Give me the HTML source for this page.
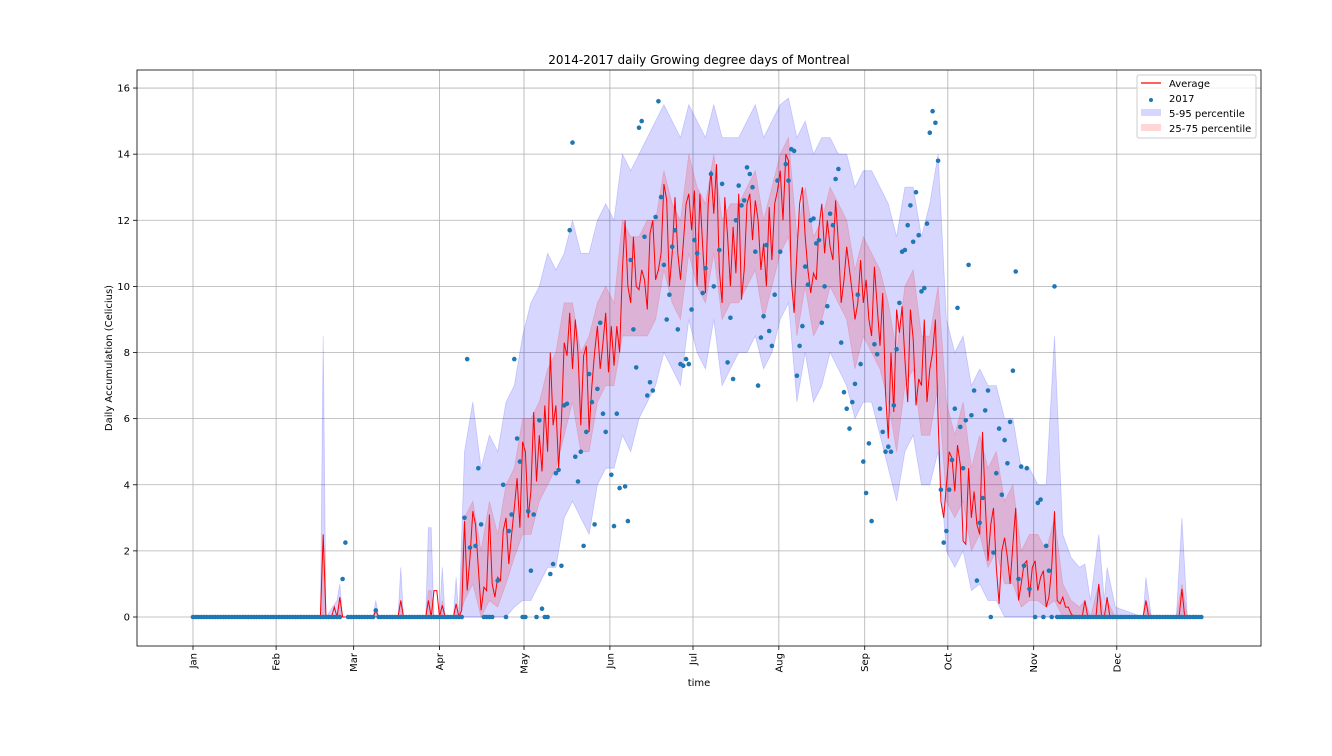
<!DOCTYPE html>
<html><head><meta charset="utf-8"><style>
body{margin:0;background:#fff;}
svg{display:block;font-family:"DejaVu Sans","Liberation Sans",sans-serif;}
</style></head><body>
<svg id="chart" width="1332" height="756" viewBox="0 0 1332 756" xmlns="http://www.w3.org/2000/svg">
<rect width="1332" height="756" fill="#fff"/>
<text x="699" y="64" text-anchor="middle" font-size="12">2014-2017 daily Growing degree days of Montreal</text>
<text transform="translate(112,358) rotate(-90)" text-anchor="middle" font-size="10">Daily Accumulation (Celicius)</text>
<text x="699" y="686" text-anchor="middle" font-size="10">time</text>
<g id="grid"></g><g id="bands"></g><g id="avgline"></g><g id="points"></g><g id="axes"></g>
<g>
<rect x="1137" y="75" width="119" height="63" rx="2" fill="#fff" fill-opacity="0.8" stroke="#ccc"/>
<line x1="1141" y1="83" x2="1161" y2="83" stroke="red" stroke-width="1.3"/>
<text x="1169" y="87" font-size="10">Average</text>
<circle cx="1151" cy="100" r="2" fill="#1f77b4"/>
<text x="1169" y="102" font-size="10">2017</text>
<rect x="1141" y="109" width="20" height="7" fill="#d6d6ff"/>
<text x="1169" y="117" font-size="10">5-95 percentile</text>
<rect x="1141" y="124" width="20" height="7" fill="#ffd6d6"/>
<text x="1169" y="132" font-size="10">25-75 percentile</text>
</g>
</svg>
<script>
const monthLabels=["Jan","Feb","Mar","Apr","May","Jun","Jul","Aug","Sep","Oct","Nov","Dec"];
const monthDays=[0,30,58,89,119.5,150.5,180.5,211.5,242.5,272.5,303.5,333.5];
const yTicks=[0,2,4,6,8,10,12,14,16];
const avg=[
0,0,0,0,0,0,0,0,0,0, 0,0,0,0,0,0,0,0,0,0, 0,0,0,0,0,0,0,0,0,0, 0,0,0,0,0,0,0,0,0,0,
0,0,0,0,0,0,0,2.5,0,0, 0,0.3,0,0.6,0,0,0,0,0,0, 0,0,0,0,0,0,0.2,0,0,0, 0,0,0,0,0,0.5,0,0,0,0,
0,0,0,0,0,0.5,0,0.8,0.8,0, 0.35,0,0,0,0,0.4,0,0.2,2.9,0.8,
1.8,3.2,2.8,1.5,0.2,0.9,0.8,3.1,1.0,0.6, 1.2,1.1,2.6,3.0,1.6,2.5,3.3,4.2,2.7,5.3,
5.0,3.0,3.8,6.2,4.1,5.5,4.4,6.4,5.0,8.0, 5.8,6.4,4.5,5.9,8.3,7.9,9.2,7.5,9.0,8.0,
5.8,7.9,8.2,5.6,7.0,8.0,8.8,7.5,8.3,9.2, 7.4,8.8,7.6,8.8,8.0,10.5,12.0,10.0,9.5,11.5,
10.0,9.9,10.5,10.2,9.3,11.6,12.0,10.2,10.5,11.0, 13.1,12.6,10.0,11.0,12.7,11.0,10.2,11.3,12.5,12.8,
11.7,12.9,10.0,12.8,11.2,9.8,12.5,13.5,12.2,13.7, 10.5,9.5,12.7,11.5,10.0,11.8,10.4,12.8,9.6,10.5,
12.5,12.8,11.4,12.6,12.0,10.5,11.3,10.0,12.4,10.8, 12.5,12.9,13.5,12.0,14.0,13.8,10.2,9.2,11.0,12.5,
13.0,11.5,10.5,9.8,10.4,10.2,11.8,12.5,11.0,12.0, 11.2,10.8,12.6,11.3,9.5,10.2,11.2,10.5,9.8,9.0,
9.5,10.8,9.5,10.2,9.0,8.5,10.6,9.4,8.2,9.8, 6.8,5.4,8.0,6.2,9.3,8.6,9.4,7.8,6.5,9.3,
8.4,6.4,7.2,7.0,9.0,6.5,7.5,8.0,9.0,6.0, 3.5,3.0,4.0,5.0,4.8,3.8,5.2,4.6,2.3,2.2,
4.5,3.0,3.8,2.8,2.5,5.6,3.5,1.7,2.8,3.3, 1.5,0.4,2.0,2.4,1.8,1.0,2.2,3.3,0.5,1.0,
1.6,1.7,0.6,1.5,1.7,0.8,1.2,1.4,0.3,0.6, 1.5,3.2,0.5,0.4,0.6,0.3,0.3,0.1,0,0,
0,0,0.5,0,0,0,0,1.0,0,0, 0.6,0,0,0,0,0,0,0,0,0, 0,0,0,0,0.5,0,0,0,0,0,
0,0,0,0,0,0,0,0.85,0,0, 0,0,0,0,0];
const obs2017=[
0,0,0,0,0,0,0,0,0,0, 0,0,0,0,0,0,0,0,0,0, 0,0,0,0,0,0,0,0,0,0, 0,0,0,0,0,0,0,0,0,0,
0,0,0,0,0,0,0,0,0,0, 0,0,0,0,1.15,2.25,0,0,0,0, 0,0,0,0,0,0,0.2,0,0,0, 0,0,0,0,0,0,0,0,0,0,
0,0,0,0,0,0,0,0,0,0, 0,0,0,0,0,0,0,0,3.0,7.8,
2.1,null,2.15,4.5,2.8,0,0,0,0,null, 1.1,null,4.0,0,2.6,3.1,7.8,5.4,4.7,0,
0,3.2,1.4,3.1,0,5.95,0.25,0,0,1.3, 1.6,4.35,4.45,1.55,6.4,6.45,11.7,14.35,4.85,4.1,
5.0,2.15,5.6,7.35,6.5,2.8,6.9,8.9,6.15,5.6, null,4.3,2.75,6.15,3.9,null,3.95,2.9,10.8,8.7,
7.55,14.8,15.0,11.5,6.7,7.1,6.85,12.1,15.6,12.7, 10.65,9.0,9.75,11.2,11.7,8.7,7.65,7.6,7.8,7.65,
9.3,11.4,11.0,null,9.8,10.55,null,13.4,10.0,null, 11.1,13.1,null,7.7,9.05,7.2,12.0,13.05,12.45,12.6,
13.6,13.4,13.0,11.05,7.0,8.45,9.1,11.25,8.65,8.2, 9.75,13.2,11.05,null,13.7,13.2,14.15,14.1,7.3,8.2,
8.8,10.6,10.05,12.0,12.05,11.3,11.4,8.9,10.0,9.4, 12.2,11.85,13.25,13.55,8.3,6.8,6.3,5.7,6.5,7.05,
9.75,7.65,4.7,3.75,5.25,2.9,8.25,7.95,6.3,5.6, 5.0,5.15,5.0,6.4,8.1,9.5,11.05,11.1,11.85,12.45,
11.35,12.85,11.55,9.85,9.95,11.9,14.65,15.3,14.95,13.8, 3.85,2.25,2.6,3.85,4.75,6.3,9.35,5.75,4.5,5.95,
10.65,6.1,6.85,1.1,2.85,3.6,6.25,6.85,0,1.95, 4.35,5.7,3.7,5.35,4.65,5.9,7.45,10.45,1.15,4.55,
1.55,4.5,0.85,null,0,3.45,3.55,0,2.15,1.4, 0,10.0,0,0,0,0,0,0,0,0,
0,0,0,0,0,0,0,0,0,0, 0,0,0,0,0,0,0,0,0,0, 0,0,0,0,0,0,0,0,0,0, 0,0,0,0,0,0,0,0,0,0, 0,0,0,0,0];
const bandDays=[0,46,47,48,52,53,54,65,66,67,74,75,76,84,85,86,87,89,90,91,94,95,96,
98,101,104,107,110,113,116,119,122,125,128,131,134,137,140,143,146,149,152,155,158,161,164,167,170,173,176,179,182,185,188,191,194,197,200,203,206,209,212,215,218,221,224,227,230,233,236,239,242,245,248,251,254,257,260,263,266,269,272,275,278,281,284,287,290,293,296,299,302,305,308,311,314,
317,320,322,324,327,329,330,333,343,344,346,355,357,359,364];
const p5=[0,0,0,0,0,0,0,0,0,0,0,0,0,0,0,0,0,0,0,0,0,0,0,
0,0,0,0,0,0,0.3,0.5,0.5,1,1.5,1.5,3,3.5,3,2.5,4,4.5,4.5,5.5,5,6,6.5,7,8,7.5,7,9,8,7.5,9,7,7.5,8,8,8.5,7.5,8,9,9.5,6.5,8,6.5,7,8,7.5,7,6,6.5,6.5,5.5,4.5,3.5,5,5.5,4,4,5,2,1.5,2,0.8,1,0.5,0.5,0,0,0,0,0,0,0,0,
0,0,0,0,0,0,0,0,0,0,0,0,0,0,0];
const p25=[0,0,0,0,0,0,0,0,0,0,0,0,0,0,0,0,0,0,0,0,0,0,0,
0.5,1,0,0.5,0.3,1,1.8,2.5,2.5,3.5,4,4.5,5.5,6.5,5,5,6.5,7,7,8.5,8.5,8.5,8.5,9,10.5,9.5,9,11,10,9.5,11,9,9.5,9.5,10,10.5,9,10,11,11.5,8.5,10,8.5,9,10,9.5,9,7.5,8.5,8,7.5,6.5,5,7,7.5,5.5,5.5,7,3.5,3,3.5,2,2.5,1.5,2,1,1,0.3,0.5,0.5,0.3,0.5,0,
0,0,0,0,0,0,0,0,0,0,0,0,0,0,0];
const p75=[0,0,2.5,0,0,0.6,0,0,0.2,0,0,0.5,0,0,0.8,0.8,0,0,0.5,0,0,0.4,0,
3,3.5,2,3.5,2.5,4,4.5,6,6,6.5,7.5,8,9.5,9.5,8,8.5,9.5,10,9.5,12,11.5,11.5,12,12,13.5,12.5,12,14,13,12.5,14,12,12.5,12.5,13,13.5,12,13,14,14.5,11.5,13,11.5,12,13,12.5,12,10.5,11.5,11,10.5,9.5,8,10,10.5,8.5,8.5,10,6.5,5.5,6.5,4.5,5.5,4.5,5,3.5,4,2,2.5,2.5,2,3,1,
0.5,0.3,0.5,0,1,0,0.5,0,0,0.5,0,0,1,0,0];
const p95=[0,0,8.5,0,0.5,1,0,0,0.5,0,0,1.5,0,0,2.7,2.7,0,0,1.5,0,0,1.2,0,
5,6.5,4.5,5.5,5,6.5,7,8.5,9.5,10,11,10.5,11,12,11,11,12,12.5,12,14,13.5,14,14.5,15,15.5,15,14.5,15.5,15,14.5,15.5,14.5,14.5,14.5,15,15.5,14.5,15,15.5,15.7,14.5,15,14,14.5,14.5,14,14,13,13.5,13.5,13,12.5,11.5,13,13,11.5,12.5,14,9,8,8.5,7,7.5,7,7,6,6,4.5,4.5,4,4,8.5,2.5,
1.8,1.5,1.6,0.5,2.5,0.5,1.5,0.3,0,1.2,0,0,3,0,0];

const X0=193, DX=2.77, Y0=617, DY=33.06;
const xs=d=>X0+d*DX, ys=v=>Y0-v*DY;
const NS="http://www.w3.org/2000/svg";
function mk(tag,parent,attrs){const e=document.createElementNS(NS,tag);for(const k in attrs)e.setAttribute(k,attrs[k]);parent.appendChild(e);return e;}
const grid=document.getElementById('grid'),axes=document.getElementById('axes');
yTicks.forEach(v=>{
  const g=mk('line',grid,{x1:137,x2:1261,y1:ys(v),y2:ys(v),stroke:'#b0b0b0','stroke-width':0.8});
  
  
  const t=mk('line',axes,{x1:133,x2:137,y1:ys(v),y2:ys(v),stroke:'#000','stroke-width':0.8});
  
  
  const l=mk('text',axes,{x:130,y:ys(v)+3.5,'text-anchor':'end','font-size':10});
  l.textContent=v;
  
  
});
monthDays.forEach((d,i)=>{
  const x=xs(d);
  const g=mk('line',grid,{x1:x,x2:x,y1:70,y2:646,stroke:'#b0b0b0','stroke-width':0.8});
  
  
  const t=mk('line',axes,{x1:x,x2:x,y1:646,y2:650,stroke:'#000','stroke-width':0.8});
  
  
  const l=mk('text',axes,{transform:`translate(${x+3.5},653) rotate(-90)`,'text-anchor':'end','font-size':10});
  l.textContent=monthLabels[i];
  
  
});
const frame=mk('rect',axes,{x:137,y:70,width:1124,height:576,fill:'none',stroke:'#000','stroke-width':0.8});



function bandPath(lo,hi){
  let s='';
  bandDays.forEach((d,i)=>{s+=(i?'L':'M')+xs(d).toFixed(1)+','+ys(hi[i]).toFixed(1);});
  for(let i=bandDays.length-1;i>=0;i--) s+='L'+xs(bandDays[i]).toFixed(1)+','+ys(lo[i]).toFixed(1);
  return s+'Z';
}
const bands=document.getElementById('bands');
const b1=mk('path',bands,{d:bandPath(p5,p95),fill:'#0000ff','fill-opacity':0.16,stroke:'#0000ff','stroke-opacity':0.16,'stroke-width':0.8});


const b2=mk('path',bands,{d:bandPath(p25,p75),fill:'#ff0000','fill-opacity':0.16,stroke:'#ff0000','stroke-opacity':0.16,'stroke-width':0.8});



let ld='';
avg.forEach((v,d)=>{ld+=(d?'L':'M')+xs(d).toFixed(1)+','+ys(v).toFixed(1);});
const line=mk('path',document.getElementById('avgline'),{d:ld,fill:'none',stroke:'red','stroke-width':1});



const pts=document.getElementById('points');
obs2017.forEach((v,d)=>{
  if(v===null)return;
  const c=mk('circle',pts,{cx:xs(d).toFixed(1),cy:ys(v).toFixed(1),r:2.3,fill:'#1f77b4'});
  
  
});
</script>
</body></html>
